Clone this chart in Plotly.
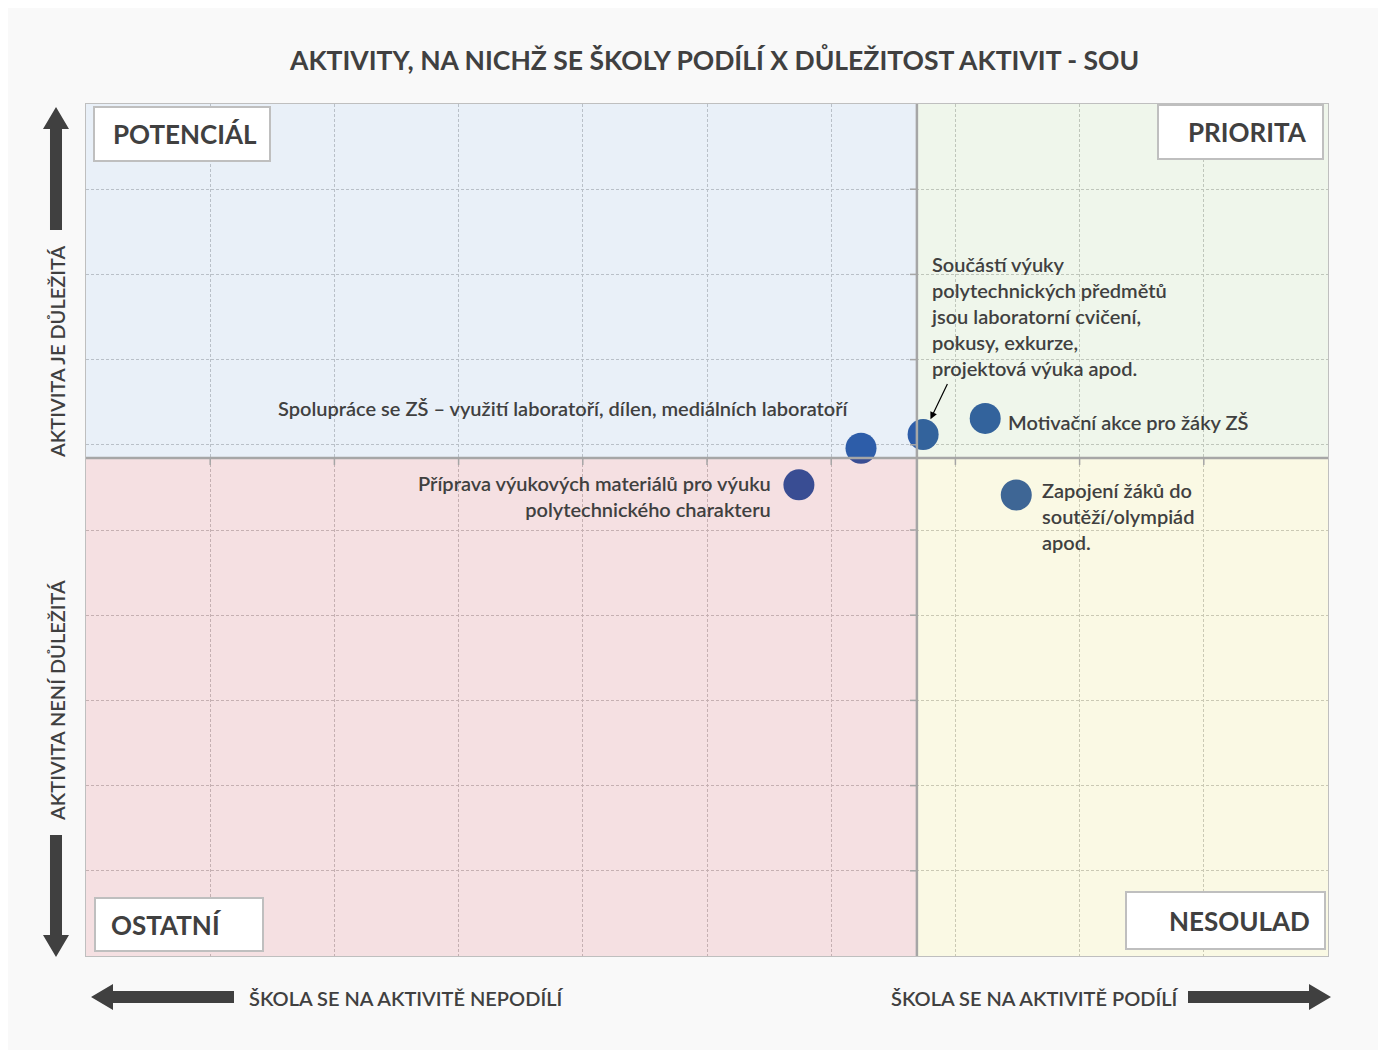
import math
import plotly.graph_objects as go

# activity -> (participation of schools, importance)
activities = [
    "Spolupráce se ZŠ – využití laboratoří, dílen, mediálních laboratoří",
    "Součástí výuky<br>polytechnických předmětů<br>jsou laboratorní cvičení,<br>pokusy, exkurze,<br>projektová výuka apod.",
    "Motivační akce pro žáky ZŠ",
    "Příprava výukových materiálů pro výuku<br>polytechnického charakteru",
    "Zapojení žáků do<br>soutěží/olympiád<br>apod.",
]
participation = [6.24, 6.74, 7.24, 5.74, 7.49]
importance = [5.96, 6.12, 6.31, 5.53, 5.41]

x_cross = 6.69
y_cross = 5.845
axis_max = 10

quadrants = ["POTENCIÁL", "PRIORITA", "OSTATNÍ", "NESOULAD"]

# page has an 8px body margin; positions below are screen pixels
OFF = 8
W, H = 1378, 1042
L, R, T, B = 86, 1328, 104, 956
TXT = "#404040"
FONT = "Lato"


def px(x):
    return (x - L) / (R - L)


def py(y):
    return (B - y) / (B - T)


fig = go.Figure()

fig.add_trace(go.Scatter(
    x=participation, y=importance, mode="markers",
    marker=dict(size=31, color="#2554A3", line=dict(width=0)),
    hoverinfo="skip", showlegend=False,
))

shapes = []
# translucent quadrant overlays
quad_fill = [
    (0, x_cross, y_cross, axis_max, "#6694D0"),
    (x_cross, axis_max, y_cross, axis_max, "#8EBC73"),
    (0, x_cross, 0, y_cross, "#B62330"),
    (x_cross, axis_max, 0, y_cross, "#DED73E"),
]
for x0, x1, y0, y1, c in quad_fill:
    shapes.append(dict(type="rect", xref="x", yref="y", layer="above",
                       x0=x0, x1=x1, y0=y0, y1=y1, fillcolor=c, opacity=0.14,
                       line=dict(width=0)))

# dividing axes with tick marks
div_col = "#A6A6A6"
shapes.append(dict(type="line", xref="x", yref="y", layer="above",
                   x0=0, x1=axis_max, y0=y_cross, y1=y_cross,
                   line=dict(color=div_col, width=2.5)))
shapes.append(dict(type="line", xref="x", yref="y", layer="above",
                   x0=x_cross, x1=x_cross, y0=0, y1=axis_max,
                   line=dict(color=div_col, width=2.5)))
for v in range(1, axis_max):
    shapes.append(dict(type="line", xref="x", yref="y", layer="above",
                       x0=v, x1=v, ysizemode="pixel", yanchor=y_cross, y0=0, y1=-7,
                       line=dict(color=div_col, width=1.5)))
    shapes.append(dict(type="line", xref="x", yref="y", layer="above",
                       y0=v, y1=v, xsizemode="pixel", xanchor=x_cross, x0=0, x1=-7,
                       line=dict(color=div_col, width=1.5)))

# quadrant name boxes
boxes = [
    (94, 270, 107, 161, "left", 111),
    (1158, 1323, 105, 159, "right", 1309),
    (95, 263, 898, 951, "left", 109),
    (1126, 1325, 892, 949, "right", 1312),
]
annotations = []
for name, (bx0, bx1, by0, by1, side, tx) in zip(quadrants, boxes):
    shapes.append(dict(type="rect", xref="paper", yref="paper", layer="above",
                       x0=px(bx0), x1=px(bx1), y0=py(by1), y1=py(by0),
                       fillcolor="white", line=dict(color="#BFBFBF", width=2)))
    annotations.append(dict(xref="paper", yref="paper", x=px(tx), y=py((by0 + by1) / 2),
                            xanchor=side, yanchor="middle", showarrow=False, text=name,
                            font=dict(family=FONT, size=26, color=TXT, weight=700)))


def block_arrow(x0, y0, x1, y1, shaft=12, head_w=26, head_l=22):
    # thick arrow from tail (x0,y0) to tip (x1,y1), screen pixels
    dx, dy = x1 - x0, y1 - y0
    n = math.hypot(dx, dy)
    ux, uy = dx / n, dy / n
    nx, ny = -uy, ux
    bx, by = x1 - ux * head_l, y1 - uy * head_l
    pts = [
        (x0 + nx * shaft / 2, y0 + ny * shaft / 2),
        (bx + nx * shaft / 2, by + ny * shaft / 2),
        (bx + nx * head_w / 2, by + ny * head_w / 2),
        (x1, y1),
        (bx - nx * head_w / 2, by - ny * head_w / 2),
        (bx - nx * shaft / 2, by - ny * shaft / 2),
        (x0 - nx * shaft / 2, y0 - ny * shaft / 2),
    ]
    path = "M " + " L ".join(f"{px(a):.5f},{py(b):.5f}" for a, b in pts) + " Z"
    return dict(type="path", xref="paper", yref="paper", path=path,
                fillcolor=TXT, line=dict(width=0), layer="above")


shapes += [
    block_arrow(56, 230, 56, 107),
    block_arrow(56, 835, 56, 957),
    block_arrow(234, 997, 91, 997),
    block_arrow(1188, 997, 1331, 997),
]

# point labels
label_pos = [
    ("right", -10, 40, "right"),
    ("left", 6, 119, "left"),
    ("left", 21, -4, "left"),
    ("right", -26, -11, "right"),
    ("left", 24, -21, "left"),
]
for txt, xv, yv, (xa, xs, ys, al) in zip(activities, participation, importance, label_pos):
    annotations.append(dict(x=xv, y=yv, xref="x", yref="y", text=txt, showarrow=False,
                            xanchor=xa, yanchor="middle", align=al, xshift=xs, yshift=ys,
                            font=dict(family=FONT, size=20, color=TXT, weight=600)))

# pointer arrow to the overlapping point
annotations.append(dict(x=participation[1], y=importance[1], xref="x", yref="y", text="",
                        showarrow=True, ax=25, ay=-52, arrowhead=2, arrowsize=1.2,
                        arrowwidth=1.2, arrowcolor="black", standoff=17))

# title and axis captions
cap_font = dict(family=FONT, size=20, color=TXT, weight=600)
annotations += [
    dict(xref="paper", yref="paper", x=px(714), y=py(60), showarrow=False,
         xanchor="center", yanchor="middle",
         text="AKTIVITY, NA NICHŽ SE ŠKOLY PODÍLÍ X DŮLEŽITOST AKTIVIT - SOU",
         font=dict(family=FONT, size=26.5, color=TXT, weight=700)),
    dict(xref="paper", yref="paper", x=px(57), y=py(352), showarrow=False, textangle=-90,
         xanchor="center", yanchor="middle", text="AKTIVITA JE DŮLEŽITÁ", font=cap_font),
    dict(xref="paper", yref="paper", x=px(57), y=py(701), showarrow=False, textangle=-90,
         xanchor="center", yanchor="middle", text="AKTIVITA NENÍ DŮLEŽITÁ", font=cap_font),
    dict(xref="paper", yref="paper", x=px(247), y=py(998), showarrow=False,
         xanchor="left", yanchor="middle", text="ŠKOLA SE NA AKTIVITĚ NEPODÍLÍ", font=cap_font),
    dict(xref="paper", yref="paper", x=px(1181), y=py(998), showarrow=False,
         xanchor="right", yanchor="middle", text="ŠKOLA SE NA AKTIVITĚ PODÍLÍ", font=cap_font),
]

axis_style = dict(range=[0, axis_max], dtick=1, showticklabels=False, ticks="",
                  showgrid=True, gridcolor="#C8C8C8", griddash="3px,2px", gridwidth=1,
                  zeroline=False, showline=True, mirror=True, linecolor="#BFBFBF", linewidth=1)
fig.update_xaxes(**axis_style)
fig.update_yaxes(**axis_style)

fig.update_layout(
    width=W, height=H,
    margin=dict(l=L - OFF, r=W - (R - OFF), t=T - OFF, b=H - (B - OFF)),
    paper_bgcolor="#F9F9F9", plot_bgcolor="white",
    shapes=shapes, annotations=annotations,
    showlegend=False,
)

fig.write_html("out.html")
